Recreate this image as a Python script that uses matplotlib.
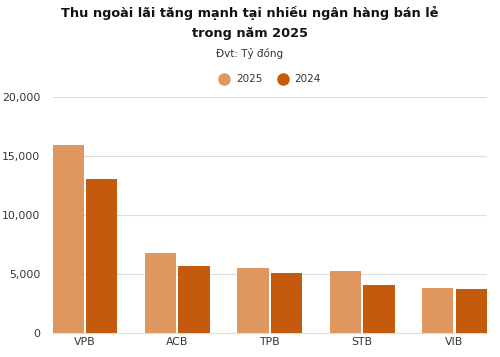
import matplotlib
matplotlib.use("Agg")
import matplotlib.pyplot as plt
import numpy as np

banks = ['VPB', 'ACB', 'TPB', 'STB', 'VIB']
y2025 = [15900, 6800, 5500, 5300, 3820]
y2024 = [13100, 5650, 5050, 4070, 3730]

c2025 = '#E0975F'
c2024 = '#C45A0C'

plt.rcParams['font.family'] = ['DejaVu Sans']

fig = plt.figure(figsize=(5, 3.57), dpi=100)
ax = fig.add_axes([0.106, 0.067, 0.868, 0.661])

x = np.arange(len(banks))
width = 0.34
gap = 0.012

ax.bar(x - width/2 - gap, y2025, width, color=c2025, label='2025', zorder=3)
ax.bar(x + width/2 + gap, y2024, width, color=c2024, label='2024', zorder=3)

ax.set_xlim(-0.346, len(banks) - 1 + 0.352)
ax.set_ylim(0, 20000)
ax.set_yticks([0, 5000, 10000, 15000, 20000])
ax.set_yticklabels(['0', '5,000', '10,000', '15,000', '20,000'])
ax.set_xticks(x)
ax.set_xticklabels(banks)
ax.tick_params(axis='both', length=0, labelsize=7.8, colors='#333333')
ax.tick_params(axis='y', pad=9)
ax.tick_params(axis='x', pad=3)
ax.grid(axis='y', color='#dddddd', linewidth=0.8, zorder=0)
for s in ['top', 'right', 'left']:
    ax.spines[s].set_visible(False)
ax.spines['bottom'].set_color('#dddddd')
ax.spines['bottom'].set_linewidth(0.8)

fig.text(0.5, 0.963, 'Thu ngoài lãi tăng mạnh tại nhiều ngân hàng bán lẻ',
         ha='center', va='center', fontsize=9.3, fontweight='bold', color='#111111')
fig.text(0.5, 0.907, 'trong năm 2025',
         ha='center', va='center', fontsize=9.3, fontweight='bold', color='#111111')
fig.text(0.5, 0.85, 'Đvt: Tỷ đồng', ha='center', va='center', fontsize=7.5, color='#333333')

leg = fig.legend(handles=[
    plt.Line2D([], [], marker='o', linestyle='', markersize=8, color=c2025, label='2025'),
    plt.Line2D([], [], marker='o', linestyle='', markersize=8, color=c2024, label='2024')],
    loc='center', bbox_to_anchor=(0.535, 0.778), ncol=2, frameon=False,
    fontsize=7.5, handletextpad=0.1, columnspacing=1.0)
for t in leg.get_texts():
    t.set_color('#333333')

fig.savefig('out.png', dpi=100)
